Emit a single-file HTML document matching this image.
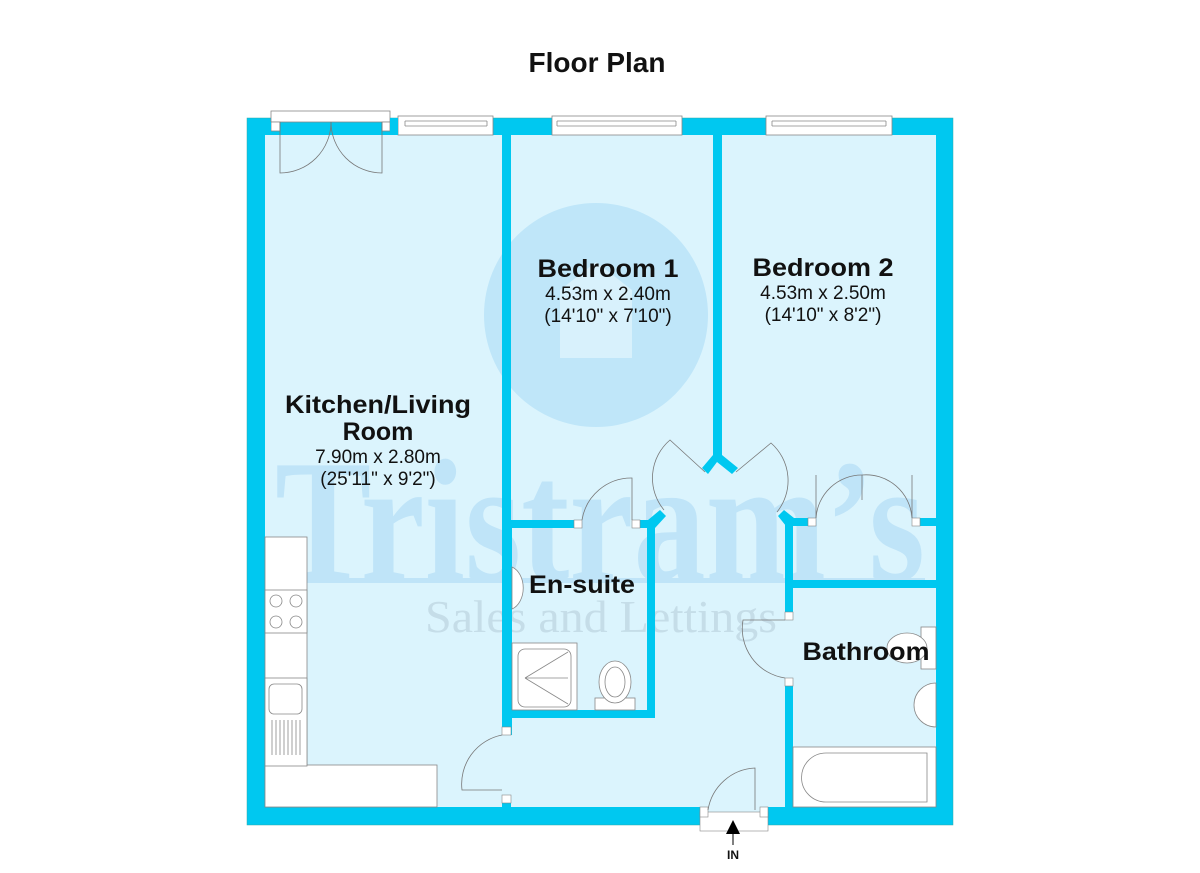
<!DOCTYPE html>
<html><head><meta charset="utf-8"><style>
html,body{margin:0;padding:0;background:#fff;}
svg{display:block}
.s{font-family:"Liberation Sans",Arial,sans-serif;}
.w{font-family:"Liberation Serif","DejaVu Serif",serif;}
</style></head><body>
<svg width="1200" height="873" viewBox="0 0 1200 873" xmlns="http://www.w3.org/2000/svg">
<rect width="1200" height="873" fill="#fff"/>
<text class="s" x="597" y="72" font-size="28" font-weight="bold" text-anchor="middle" fill="#111">Floor Plan</text>

<rect x="247" y="118" width="706" height="707" fill="#00c8f0" stroke="#3aa" stroke-width="0.5"/>
<rect x="265" y="135" width="671" height="672" fill="#dbf4fd"/>

<circle cx="596" cy="315" r="112" fill="#bfe6f9"/>
<path d="M560 290 L596 262 L632 290 L632 358 L560 358 Z" fill="#d8f1fc"/>

<text class="w" x="275" y="580" font-size="175" font-weight="bold" fill="#bfe4f8" textLength="650" lengthAdjust="spacingAndGlyphs">Tristram’s</text>
<rect x="275" y="578" width="650" height="5" fill="#bfe4f8"/>
<text class="w" x="425" y="632" font-size="46" fill="#c5dde8" textLength="352" lengthAdjust="spacingAndGlyphs">Sales and Lettings</text>

<g fill="#00c8f0">
<rect x="502" y="135" width="9" height="390"/>
<rect x="502" y="520" width="10" height="215"/>
<rect x="502" y="795" width="9" height="12"/>
<rect x="713" y="135" width="9" height="322"/>
<polygon points="713,455 722,455 738,468 732,474 717,462 708,474 702,468"/>
<rect x="511" y="520" width="63" height="8"/>
<rect x="640" y="520" width="15" height="8"/>
<polygon points="648,520 660,510 666,516 655,528"/>
<rect x="647" y="520" width="8" height="198"/>
<rect x="502" y="710" width="153" height="8"/>
<polygon points="778,516 784,510 794,518 794,526 786,526"/>
<rect x="786" y="518" width="22" height="8"/>
<rect x="920" y="518" width="16" height="8"/>
<rect x="785" y="518" width="8" height="102"/>
<rect x="785" y="678" width="8" height="129"/>
<rect x="786" y="580" width="150" height="8"/>
</g>

<g fill="#fff" stroke="#888" stroke-width="0.6">
<rect x="574" y="520" width="8" height="8"/><rect x="632" y="520" width="8" height="8"/>
<rect x="502" y="727" width="9" height="8"/><rect x="502" y="795" width="9" height="8"/>
<rect x="785" y="612" width="8" height="8"/><rect x="785" y="678" width="8" height="8"/>
<rect x="808" y="518" width="8" height="8"/><rect x="912" y="518" width="8" height="8"/>
</g>
<rect x="700" y="807" width="68" height="18" fill="#dbf4fd"/>
<rect x="700" y="812" width="68" height="19" fill="#fff" stroke="#888" stroke-width="0.6"/>
<rect x="700" y="807" width="8" height="10" fill="#fff" stroke="#888" stroke-width="0.6"/>
<rect x="760" y="807" width="8" height="10" fill="#fff" stroke="#888" stroke-width="0.6"/>

<g fill="#fff" stroke="#888" stroke-width="0.8">
<rect x="271" y="111" width="119" height="11"/>
<rect x="271" y="122" width="9" height="9"/><rect x="382" y="122" width="8" height="9"/>
<rect x="398" y="116" width="95" height="19"/><line x1="405" y1="121" x2="487" y2="121"/><line x1="405" y1="126" x2="487" y2="126"/><line x1="405" y1="121" x2="405" y2="126"/><line x1="487" y1="121" x2="487" y2="126"/>
<rect x="552" y="116" width="130" height="19"/><line x1="557" y1="121" x2="676" y2="121"/><line x1="557" y1="126" x2="676" y2="126"/><line x1="557" y1="121" x2="557" y2="126"/><line x1="676" y1="121" x2="676" y2="126"/>
<rect x="766" y="116" width="126" height="19"/><line x1="772" y1="121" x2="886" y2="121"/><line x1="772" y1="126" x2="886" y2="126"/><line x1="772" y1="121" x2="772" y2="126"/><line x1="886" y1="121" x2="886" y2="126"/>
</g>
<rect x="265" y="122" width="6" height="13" fill="#00c8f0"/>
<rect x="390" y="118" width="8" height="17" fill="#00c8f0"/>

<g fill="none" stroke="#777" stroke-width="0.8">
<path d="M280 122 V173 A51 51 0 0 0 331 122"/>
<path d="M382 122 V173 A51 51 0 0 1 331 122"/>
<path d="M582 520 A50 50 0 0 1 632 478 V520"/>
<path d="M705 472 L670 440 A50 50 0 0 0 664 510"/>
<path d="M736 472 L771 443 A50 50 0 0 1 777 512"/>
<path d="M816 518 A46 46 0 0 1 862 475 A46 46 0 0 1 912 518"/>
<line x1="862" y1="475" x2="862" y2="500"/>
<line x1="816" y1="475" x2="816" y2="518"/><line x1="912" y1="475" x2="912" y2="518"/>
<path d="M785 620 H743 A50 50 0 0 0 785 678"/>
<path d="M502 735 A50 50 0 0 0 462 790 H502"/>
<path d="M708 810 A50 50 0 0 1 755 768 V810"/>
</g>

<g fill="#fff" stroke="#888" stroke-width="0.8">
<rect x="265" y="537" width="42" height="270"/>
<rect x="265" y="765" width="172" height="42"/>
<rect x="265" y="590" width="42" height="43"/>
<rect x="265" y="678" width="42" height="88"/>
</g>
<g fill="none" stroke="#888" stroke-width="0.8">
<circle cx="276" cy="601" r="6"/><circle cx="296" cy="601" r="6"/><circle cx="276" cy="622" r="6"/><circle cx="296" cy="622" r="6"/>
<rect x="269" y="684" width="33" height="30" rx="5"/>
<path d="M272 720V755M276 720V755M280 720V755M284 720V755M288 720V755M292 720V755M296 720V755M300 720V755"/>
</g>

<g fill="#fff" stroke="#888" stroke-width="0.8">
<path d="M512 567 A16 22 0 0 1 512 609 Z"/>
<rect x="512" y="643" width="65" height="67"/>
<rect x="518" y="649" width="53" height="58" rx="7" fill="none"/>
<path d="M525 678 L568 652 M525 678 H568 M525 678 L568 704" fill="none"/>
<rect x="595" y="698" width="40" height="12"/>
<ellipse cx="615" cy="682" rx="16" ry="21"/>
<ellipse cx="615" cy="682" rx="10" ry="15" fill="none"/>
</g>

<g fill="#fff" stroke="#888" stroke-width="0.8">
<rect x="921" y="627" width="15" height="42"/>
<ellipse cx="907" cy="648" rx="20" ry="15"/>
<path d="M936 683 A22 22 0 0 0 936 727 Z"/>
<rect x="793" y="747" width="143" height="60"/>
<path d="M826 753 H927 V802 H826 A24 24 0 0 1 826 753 Z"/>
</g>

<g class="s" fill="#111" text-anchor="middle">
<text x="608" y="277" font-size="25" font-weight="bold" textLength="141" lengthAdjust="spacingAndGlyphs">Bedroom 1</text>
<text x="608" y="300" font-size="19">4.53m x 2.40m</text>
<text x="608" y="322" font-size="19">(14'10" x 7'10")</text>
<text x="823" y="276" font-size="25" font-weight="bold" textLength="141" lengthAdjust="spacingAndGlyphs">Bedroom 2</text>
<text x="823" y="299" font-size="19">4.53m x 2.50m</text>
<text x="823" y="321" font-size="19">(14'10" x 8'2")</text>
<text x="378" y="413" font-size="25" font-weight="bold" textLength="186" lengthAdjust="spacingAndGlyphs">Kitchen/Living</text>
<text x="378" y="440" font-size="25" font-weight="bold">Room</text>
<text x="378" y="463" font-size="19">7.90m x 2.80m</text>
<text x="378" y="485" font-size="19">(25'11" x 9'2")</text>
<text x="582" y="593" font-size="25" font-weight="bold" textLength="106" lengthAdjust="spacingAndGlyphs">En-suite</text>
<text x="866" y="660" font-size="25" font-weight="bold" textLength="127" lengthAdjust="spacingAndGlyphs">Bathroom</text>
<text x="733" y="859" font-size="12" font-weight="bold">IN</text>
</g>
<polygon points="733,820 726,834 740,834" fill="#000"/>
<line x1="733" y1="834" x2="733" y2="845" stroke="#000" stroke-width="1"/>
</svg>
</body></html>
